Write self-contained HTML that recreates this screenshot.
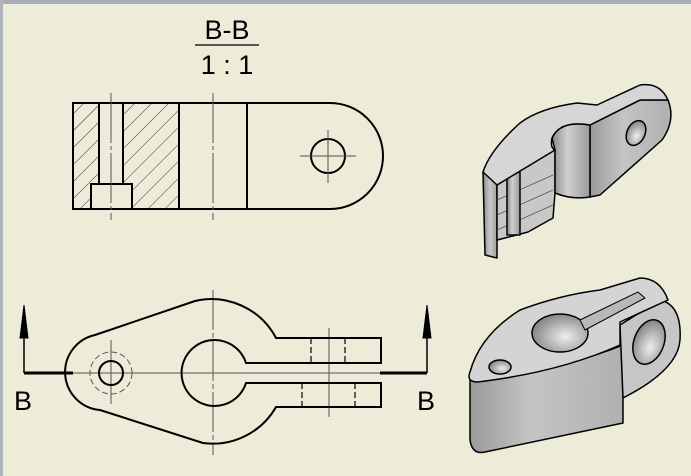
<!DOCTYPE html>
<html><head><meta charset="utf-8"><style>
html,body{margin:0;padding:0;}
body{width:691px;height:476px;background:#ECECD8;position:relative;overflow:hidden;font-family:"Liberation Sans",sans-serif;}
</style></head><body>
<svg width="691" height="476" viewBox="0 0 691 476" xmlns="http://www.w3.org/2000/svg" style="position:absolute;left:0;top:0">
<defs>
<pattern id="h" width="12" height="12" patternUnits="userSpaceOnUse" patternTransform="rotate(45)">
<line x1="0" y1="0" x2="0" y2="12" stroke="#222" stroke-width="0.9"/>
</pattern>
<linearGradient id="g1" x1="0" y1="0" x2="1" y2="0"><stop offset="0" stop-color="#8a8a8a"/><stop offset="0.5" stop-color="#c8c8c8"/><stop offset="1" stop-color="#a0a0a0"/></linearGradient>
<linearGradient id="g2" x1="0" y1="0" x2="1" y2="0"><stop offset="0" stop-color="#9a9a9a"/><stop offset="0.4" stop-color="#c4c4c4"/><stop offset="1" stop-color="#b0b0b0"/></linearGradient>
<linearGradient id="g3" x1="0" y1="0" x2="1" y2="0"><stop offset="0" stop-color="#888"/><stop offset="0.4" stop-color="#d0d0d0"/><stop offset="1" stop-color="#999"/></linearGradient>
<radialGradient id="gh" cx="0.6" cy="0.6" r="0.7"><stop offset="0" stop-color="#eee"/><stop offset="1" stop-color="#777"/></radialGradient>
</defs>
<rect x="0" y="0" width="691" height="4" fill="#A9AEB8"/>
<rect x="0" y="0" width="3" height="476" fill="#B0B4BC"/>

<!-- title -->
<text x="227" y="39" font-size="27" text-anchor="middle" fill="#000">B-B</text>
<line x1="195" y1="45" x2="259" y2="45" stroke="#000" stroke-width="1.3"/>
<text x="227" y="74" font-size="27" text-anchor="middle" fill="#000">1 : 1</text>

<!-- section view -->
<g stroke="#000" fill="none">
<rect x="73" y="103" width="26" height="106" fill="url(#h)" stroke="none"/>
<rect x="123" y="103" width="56" height="106" fill="url(#h)" stroke="none"/>
<rect x="91" y="184" width="41" height="25" fill="#ECECD8" stroke="none"/>
<path d="M73 103 H330 A53 53 0 0 1 330 209 H73 Z" stroke-width="2"/>
<line x1="179" y1="103" x2="179" y2="209" stroke-width="2"/>
<line x1="247" y1="103" x2="247" y2="209" stroke-width="2"/>
<path d="M99 103 V184 M123 103 V184 M91 209 V184 H132 V209" stroke-width="2"/>
<circle cx="328" cy="156" r="17" stroke-width="2"/>
</g>
<g stroke="#555" stroke-width="1">
<line x1="111" y1="93" x2="111" y2="220" stroke-dasharray="50,3,4,3"/>
<line x1="213" y1="93" x2="213" y2="220" stroke-dasharray="50,3,4,3"/>
<line x1="300" y1="156" x2="356" y2="156"/>
<line x1="328" y1="130" x2="328" y2="183"/>
</g>

<!-- plan view -->
<g stroke="#555" stroke-width="1" fill="none">
<line x1="73" y1="373" x2="381" y2="373"/>
<line x1="213" y1="290" x2="213" y2="455" stroke-dasharray="40,3,5,3"/>
<line x1="329" y1="328" x2="329" y2="417"/>
<line x1="111" y1="340" x2="111" y2="404"/>
<circle cx="111" cy="373" r="21" stroke-dasharray="6,3"/>
</g>
<g stroke="#000" stroke-width="2" fill="none">
<path d="M95 335 L195 301 A73 73 0 0 1 276 338 H381 V363 H246 A33 33 0 1 0 246 383 H381 V407 H276 A73 73 0 0 1 203 443 L100 410 A38 38 0 0 1 95 335 Z"/>
<circle cx="111" cy="373" r="12"/>
</g>
<g stroke="#000" stroke-width="1.2">
<line x1="311" y1="338" x2="311" y2="363" stroke-dasharray="6,3"/>
<line x1="345" y1="338" x2="345" y2="363" stroke-dasharray="6,3"/>
<line x1="302" y1="383" x2="302" y2="407" stroke-dasharray="6,3"/>
<line x1="355" y1="383" x2="355" y2="407" stroke-dasharray="6,3"/>
</g>
<!-- section arrows -->
<g stroke="#000" fill="#000">
<path d="M24 373 V330" stroke-width="1.5"/>
<path d="M24 373 H73" stroke-width="3"/>
<path d="M24 305 L20 338 H28 Z"/>
<path d="M427 373 V330" stroke-width="1.5"/>
<path d="M380 373 H427" stroke-width="3"/>
<path d="M427 305 L423 338 H431 Z"/>
</g>
<text x="14" y="410" font-size="27" fill="#000">B</text>
<text x="417" y="410" font-size="27" fill="#000">B</text>

<!-- upper iso (section) -->
<g stroke="#000" stroke-width="1.5" stroke-linejoin="round">
<path d="M590 125 L640 100 L668 100 Q676 120 662 140 L600 195 L590 197 Z" fill="url(#g2)"/>
<path d="M483 172 L485 255 L497 258 L497 172 Z" fill="url(#g1)"/>
<path d="M497 185 L540 158 L555 150 V193 L553 218 L528 232 L505 238 L497 240 Z" fill="#c8c8c8"/>
<g stroke="#555" stroke-width="0.8"><line x1="497" y1="200" x2="553" y2="175"/><line x1="497" y1="215" x2="553" y2="190"/><line x1="497" y1="230" x2="553" y2="205"/></g>
<path d="M507 172 H520 V235 H507 Z" fill="url(#g3)"/>
<path d="M555 150 L555 193 Q572 200 590 197 V125 Q560 120 552 138 Z" fill="url(#g3)"/>
<path d="M483 172 Q490 150 520 123 Q540 108 577 103 L597 105 L640 85 Q660 82 668 100 L640 100 L590 125 Q560 120 552 138 Q550 148 555 150 L497 185 Z" fill="#d6d6d6"/>
<ellipse cx="636" cy="133" rx="9" ry="13" transform="rotate(25 636 133)" fill="url(#gh)"/>
</g>

<!-- lower iso -->
<g stroke="#000" stroke-width="1.5" stroke-linejoin="round">
<path d="M470 372 V440 Q472 455 485 452 L623 423 V345 Q560 370 475 378 Z" fill="url(#g2)"/>
<path d="M620 325 L660 300 Q682 305 680 340 Q678 370 623 398 Z" fill="#c6c6c6"/>
<path d="M470 372 Q480 335 520 310 Q560 295 600 290 L640 278 Q660 278 668 300 L620 322 V345 Q560 372 478 382 Q466 382 470 372 Z" fill="#d4d4d4"/>
<ellipse cx="560" cy="333" rx="28" ry="19" fill="url(#gh)"/>
<path d="M580 320 L638 292 L645 298 L585 330 Z" fill="#b8b8b8" stroke-width="1"/>
<ellipse cx="500" cy="367" rx="11" ry="7" fill="url(#gh)"/>
<ellipse cx="649" cy="342" rx="15" ry="23" transform="rotate(20 649 342)" fill="url(#gh)"/>
</g>
</svg>
</body></html>
